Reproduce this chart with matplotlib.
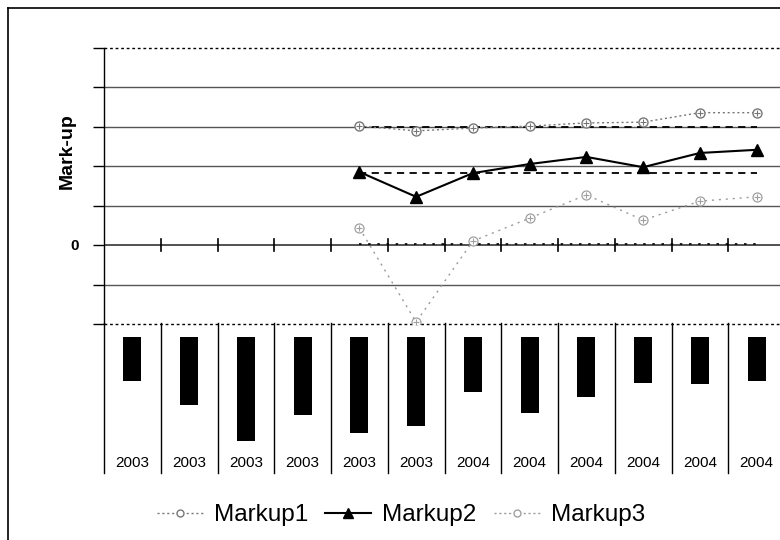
import numpy as np
import matplotlib
matplotlib.use("Agg")
import matplotlib.pyplot as plt
from matplotlib.lines import Line2D

plt.rcParams['font.family'] = ['Liberation Sans', 'DejaVu Sans']

# ---- data ----
years = ['2003'] * 6 + ['2004'] * 6
nan = np.nan
markup1 = [nan, nan, nan, nan, 0.301, 0.289, 0.296, 0.301, 0.309, 0.311, 0.335, 0.335]
markup2 = [nan, nan, nan, nan, 0.185, 0.122, 0.182, 0.205, 0.223, 0.197, 0.233, 0.241]
markup3 = [nan, nan, nan, nan, 0.043, -0.195, 0.010, 0.068, 0.127, 0.063, 0.111, 0.122]
level1 = 0.298
level2 = 0.183
level3 = 0.003
bar_depth = [4.4, 6.85, 10.45, 7.8, 9.6, 8.9, 5.5, 7.65, 6.0, 4.65, 4.75, 4.4]

W, H = 780, 540
fig = plt.figure(figsize=(W / 100, H / 100), dpi=100)

def fx(px):
    return px / W

def fy(py):
    return 1 - py / H

n = len(years)
x = np.arange(n)

# ---- upper panel: mark-up lines ----
ax = fig.add_axes([fx(104), fy(324), fx(785) - fx(104), fy(47.5) - fy(324)])
ax.set_xlim(-0.5, n - 0.5)
ax.set_ylim(-0.2, 0.5)
for s in ['right', 'top', 'bottom']:
    ax.spines[s].set_visible(False)
ax.spines['left'].set_color('black')
ax.spines['left'].set_linewidth(1.0)

grid_levels = [-0.1, 0.1, 0.2, 0.3, 0.4]
for g in grid_levels:
    ax.axhline(g, color='#555555', lw=1.0, zorder=1)
ax.axhline(0.5, color='black', lw=1.0, ls=(0, (2, 2)), zorder=1, clip_on=False)
ax.axhline(-0.2, color='black', lw=1.0, ls=(0, (2, 2)), zorder=1, clip_on=False)
ax.axhline(0.0, color='#222222', lw=1.1, zorder=1)
# category ticks crossing the zero line
for b in np.arange(-0.5, n, 1.0)[1:]:
    ax.plot([b, b], [-0.015, 0.015], color='black', lw=1.2, zorder=2)

ax.set_yticks([-0.2, -0.1, 0.0, 0.1, 0.2, 0.3, 0.4, 0.5])
ax.set_yticklabels(['', '', '0', '', '', '', '', ''])
ax.tick_params(axis='y', length=8, width=1.0, direction='out', pad=10,
               labelsize=11)
for t in ax.get_yticklabels():
    t.set_fontweight('bold')
ax.set_xticks([])
fig.text(fx(67), fy(151), 'Mark-up', rotation=90, ha='center', va='center',
         fontsize=14, fontweight='bold')

first, last = 4, n - 1
ax.plot([first, last], [level1, level1], color='black', lw=1.3, ls=(0, (4, 3)), zorder=3)
ax.plot([first, last], [level2, level2], color='black', lw=1.3, ls=(0, (4, 3)), zorder=3)
ax.plot([first, last], [level3, level3], color='black', lw=1.2, ls=(0, (1.5, 4)), zorder=3)

ax.plot(x, markup1, color='#777777', lw=1.0, ls=(0, (1.5, 2)),
        marker='o', ms=6.5, mfc='white', mec='#777777', mew=1.0, zorder=4)
ax.plot(x, markup1, ls='none', marker='+', ms=5, mec='#777777', mew=0.8, zorder=5)
ax.plot(x, markup2, color='black', lw=1.5, marker='^', ms=8, mfc='black',
        mec='black', zorder=6)
ax.plot(x, markup3, color='#9a9a9a', lw=1.0, ls=(0, (1.5, 3.5)),
        marker='o', ms=6.5, mfc='white', mec='#a0a0a0', mew=0.9, zorder=4)
ax.plot(x, markup3, ls='none', marker='+', ms=5, mec='#a0a0a0', mew=0.8, zorder=5)

# ---- lower panel: hanging bars with year labels ----
bx = fig.add_axes([fx(104), fy(473), fx(785) - fx(104), fy(323) - fy(473)])
bx.set_xlim(-0.5, n - 0.5)
bx.set_ylim(13.65, -1.35)
bx.axis('off')
bx.bar(x, bar_depth, width=0.32, bottom=0, color='black')
for b in np.arange(-0.5, n + 0.5, 1.0):
    bx.plot([b, b], [0, 1], transform=bx.get_xaxis_transform(), color='black',
            lw=1.0, clip_on=False)
for i, yr in enumerate(years):
    bx.text(i, 0.067, yr, transform=bx.get_xaxis_transform(), ha='center',
            va='center', fontsize=11)

# ---- legend ----
h1 = Line2D([], [], color='#777777', lw=1.0, ls=(0, (1.5, 2)), marker='o', ms=5,
            mfc='white', mec='#777777')
h2 = Line2D([], [], color='black', lw=1.5, marker='^', ms=6.5, mfc='black', mec='black')
h3 = Line2D([], [], color='#9a9a9a', lw=1.0, ls=(0, (1.5, 2)), marker='o', ms=5,
            mfc='white', mec='#a0a0a0')
fig.legend([h1, h2, h3], ['Markup1', 'Markup2', 'Markup3'], loc='center',
           bbox_to_anchor=(fx(401), fy(515)), ncol=3, frameon=False,
           fontsize=17.5, handlelength=1.9, handletextpad=0.45, columnspacing=0.7,
           borderpad=0)

# ---- outer frame ----
fig.add_artist(Line2D([fx(8), fx(8)], [0, fy(8)], color='black', lw=1.2))
fig.add_artist(Line2D([fx(8), 1], [fy(8), fy(8)], color='black', lw=1.2))

fig.savefig('out.png', dpi=100)
